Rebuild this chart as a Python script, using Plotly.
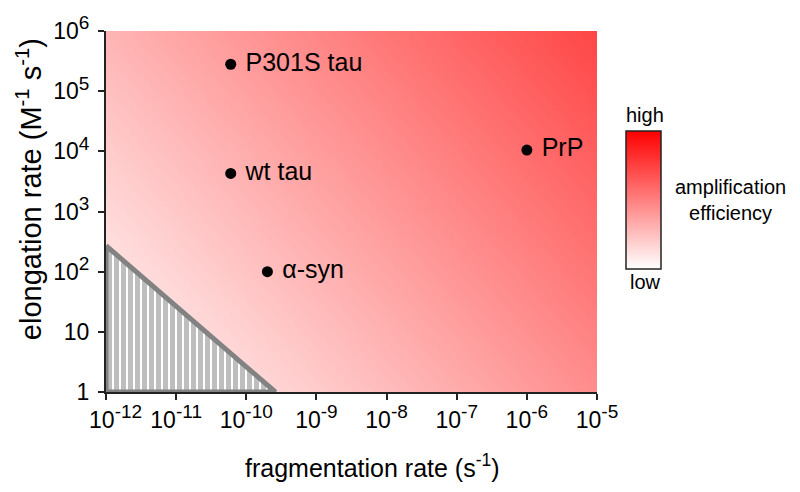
import numpy as np
import plotly.graph_objects as go

# ---- data ----
proteins = ["P301S tau", "wt tau", "α-syn", "PrP"]
frag_rate = [6e-11, 6e-11, 2e-10, 1e-6]       # s^-1
elong_rate = [2.8e5, 4.3e3, 1.0e2, 1.05e4]     # M^-1 s^-1

# excluded (hatched) region boundary
tri_x = [1e-12, 1e-12, 2.6e-10, 1e-12]
tri_y = [2.7e2, 1, 1, 2.7e2]

SUP = '<sup><span style="font-size:19px">{}</span></sup>'
x_tickvals = [1e-12, 1e-11, 1e-10, 1e-9, 1e-8, 1e-7, 1e-6, 1e-5]
x_exponents = ["-12", "-11", "-10", "-9", "-8", "-7", "-6", "-5"]
y_tickvals = [1, 10, 1e2, 1e3, 1e4, 1e5, 1e6]
y_exponents = ["", "", "2", "3", "4", "5", "6"]

x_ticktext = ["10" + SUP.format(e) for e in x_exponents]
x_ticktext[0] = "\u00a0\u00a0\u00a0" + x_ticktext[0]
y_ticktext = ["1", "10"] + ["10" + SUP.format(e) for e in y_exponents[2:]]

# background efficiency gradient (white -> red)
gx = np.linspace(-12, -5, 160)
gy = np.linspace(0, 6, 140)
GX, GY = np.meshgrid(gx, gy)
eff = np.clip(0.062 * GX + 0.046 * GY + 0.759, 0, 1)

FONT = "Liberation Sans, Arial, sans-serif"

fig = go.Figure()

fig.add_trace(go.Heatmap(
    x=10 ** gx, y=10 ** gy, z=eff,
    zmin=0, zmax=1,
    colorscale=[[0, "rgb(255,255,255)"], [1, "rgb(255,0,0)"]],
    hoverinfo="skip",
    colorbar=dict(
        x=1.059, xanchor="left", y=0.531, yanchor="middle",
        len=0.381, lenmode="fraction",
        thickness=35, thicknessmode="pixels",
        xpad=0, ypad=0,
        outlinecolor="#222222", outlinewidth=1.5,
        showticklabels=False, ticks="",
    ),
))

fig.add_trace(go.Scatter(
    x=tri_x, y=tri_y, mode="lines", fill="toself",
    fillcolor="white",
    fillpattern=dict(shape="|", size=7, solidity=0.72,
                     fgcolor="rgb(125,125,125)", bgcolor="white"),
    line=dict(color="rgb(130,130,130)", width=5),
    hoverinfo="skip", showlegend=False,
))

fig.add_trace(go.Scatter(
    x=frag_rate, y=elong_rate, mode="markers+text",
    text=[" " + p for p in proteins], textposition="middle right",
    textfont=dict(family=FONT, size=25, color="black"),
    marker=dict(size=11, color="black"),
    hoverinfo="skip", showlegend=False, cliponaxis=False,
))

axis_common = dict(
    showgrid=False, zeroline=False, showline=True, linecolor="#222222", linewidth=2,
    ticks="outside", ticklen=6, tickwidth=1.5, tickcolor="#222222",
    tickfont=dict(family=FONT, size=23, color="black"), layer="above traces",
)

fig.update_xaxes(type="log", range=[-12, -5], tickvals=x_tickvals, ticktext=x_ticktext,
                 **axis_common)
fig.update_yaxes(type="log", range=[0, 6], tickvals=y_tickvals, ticktext=y_ticktext,
                 ticklabelstandoff=4, **axis_common)

fig.add_annotation(text="fragmentation rate (s<sup>-1</sup>)", x=0.542, y=-0.205,
                   xref="paper", yref="paper", xanchor="center", yanchor="middle",
                   showarrow=False, font=dict(family=FONT, size=25, color="black"))
fig.add_annotation(text="elongation rate (M<sup>-1</sup> s<sup>-1</sup>)", x=-0.158, y=0.563,
                   xref="paper", yref="paper", xanchor="center", yanchor="middle",
                   textangle=-90, showarrow=False,
                   font=dict(family=FONT, size=29, color="black"))

ann_font = dict(family=FONT, size=20, color="black")
fig.add_annotation(text="high", x=1.098, y=0.768, xref="paper", yref="paper",
                   xanchor="center", yanchor="middle", showarrow=False, font=ann_font)
fig.add_annotation(text="low", x=1.098, y=0.305, xref="paper", yref="paper",
                   xanchor="center", yanchor="middle", showarrow=False, font=ann_font)
fig.add_annotation(text="amplification<br>efficiency", x=1.271, y=0.531,
                   xref="paper", yref="paper", xanchor="center", yanchor="middle",
                   showarrow=False, font=ann_font)

fig.update_layout(
    width=800, height=492,
    margin=dict(l=106, r=203, t=25, b=100),
    paper_bgcolor="white", plot_bgcolor="white",
    font=dict(family=FONT, color="black"),
    showlegend=False,
)

fig.write_html("out.html", config={"displayModeBar": False},
               post_script="document.body.style.margin='0';")
